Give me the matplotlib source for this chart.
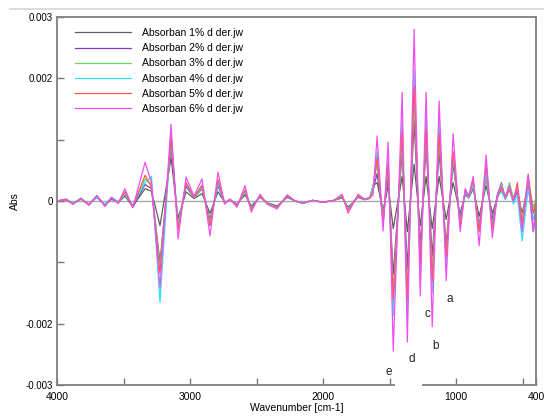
import matplotlib
matplotlib.use("Agg")
import matplotlib.pyplot as plt
from matplotlib.lines import Line2D
from matplotlib.patches import Rectangle

plt.rcParams['font.family'] = ['Liberation Sans', 'DejaVu Sans']

# === Data (extrema positions) ===
wavenumber = [4000, 3930, 3880, 3820, 3760, 3700, 3640, 3590, 3540, 3490,
              3430, 3338, 3290, 3226, 3143, 3090, 3030, 2970, 2910, 2850,
              2790, 2740, 2700, 2647, 2587, 2540, 2474, 2420, 2346, 2270,
              2210, 2150, 2080, 2000, 1920, 1857, 1812, 1737, 1690, 1650,
              1625, 1594, 1549, 1511, 1473, 1406, 1367, 1316, 1270, 1226,
              1180, 1128, 1075, 1023, 970, 932, 905, 872, 827, 775,
              728, 690, 660, 630, 600, 570, 540, 504, 459, 420, 400]

abs_1 = [0, 0.00002, -0.00004, 0.00003, -0.00005, 0.00006, -0.00006, 0.00003, -0.00002, 0.00008,
         -0.00008, 0.0002, 0.00016, -0.0004, 0.0007, -0.00028, 0.00015, 0.00004, 0.00012, -0.0002,
         0.00015, -0.00002, 0.00002, -0.00005, 0.0001, -0.00008, 0.00006, -0.00003, -0.00008, 0.00006,
         0, -0.00003, 0.00001, -0.00002, 0.00001, 0.00005, -0.0001, 0.00006, 0.00002, 0.00004,
         0.00025, 0.0003, -0.00015, 0.00025, -0.00045, 0.0004, -0.0005, 0.0006, -0.0004, 0.0004,
         -0.00045, 0.0004, -0.0003, 0.0003, -0.0002, 0.0001, 0.00005, 0.0002, -0.00025, 0.00025,
         -0.0002, 0.00005, 0.0002, 0.00008, 0.00022, 0.00002, 0.00015, -0.0002, 0.00025, -0.0002, -0.0001]

abs_2 = [0, 0.00003, -0.00005, 0.00004, -0.00006, 0.00008, -0.00007, 0.00004, -0.00003, 0.0001,
         -0.0001, 0.00027, 0.0002, -0.001, 0.0009, -0.0004, 0.00024, 0.00005, 0.0002, -0.0003,
         0.00025, -0.00003, 0.00002, -0.00007, 0.00014, -0.00012, 0.00008, -0.00004, -0.0001, 0.00008,
         0, -0.00003, 0.00001, -0.00002, 0.00001, 0.00007, -0.00012, 0.00008, 0.00003, 0.00005,
         0.00018, 0.00045, -0.0003, 0.0004, -0.0012, 0.0008, -0.0011, 0.0013, -0.00075, 0.0009,
         -0.0009, 0.0008, -0.0007, 0.0006, -0.0003, 0.00015, 0.00006, 0.00025, -0.0004, 0.0004,
         -0.0003, 0.0001, 0.0003, 0.00003, 0.00025, 0.0, 0.0002, -0.0004, 0.0003, -0.0005, -0.0001]

abs_3 = [0, 0.00002, -0.00004, 0.00003, -0.00005, 0.00007, -0.00006, 0.00005, -0.00002, 0.00011,
         -0.00008, 0.00036, 0.00028, -0.0011, 0.001, -0.0004, 0.00028, 0.00005, 0.00022, -0.00035,
         0.0003, -0.00003, 0.00002, -0.00007, 0.00015, -0.00012, 0.00008, -0.00004, -0.0001, 0.00008,
         0, -0.00003, 0.00001, -0.00002, 0.00001, 0.00007, -0.00013, 0.00008, 0.00003, 0.00005,
         0.00025, 0.0006, -0.0003, 0.00055, -0.0015, 0.001, -0.0015, 0.0017, -0.001, 0.0011,
         -0.0012, 0.001, -0.00085, 0.0007, -0.00035, 0.00015, 0.00006, 0.00025, -0.00045, 0.00045,
         -0.0004, 0.0001, 0.00028, 0.00006, 0.0003, 0.00005, 0.00022, -0.0003, 0.0003, -0.0001, 0.0]

abs_4 = [0, 0.00003, -0.00004, 0.00005, -0.00006, 0.00006, -0.00005, 0.00006, -0.00001, 0.00012,
         -0.00007, 0.0003, 0.0004, -0.00165, 0.0011, -0.00042, 0.0003, 0.00006, 0.00025, -0.0004,
         0.0003, -0.00003, 0.00003, -0.00008, 0.00016, -0.00013, 0.00009, -0.00004, -0.00011, 0.00009,
         0, -0.00004, 0.00001, -0.00002, 0.00001, 0.00008, -0.00014, 0.00009, 0.00003, 0.00005,
         0.0002, 0.0008, -0.0004, 0.0007, -0.00187, 0.0013, -0.0019, 0.00212, -0.0012, 0.0014,
         -0.0015, 0.0013, -0.001, 0.0008, -0.0004, 0.00015, 0.00005, 0.0003, -0.0005, 0.0005,
         -0.0004, 0.00008, 0.00015, 0.00002, 0.0002, -0.00005, 0.0001, -0.00065, 0.0002, -0.0003, -0.0001]

abs_5 = [0, 0.00002, -0.00005, 0.00004, -0.00006, 0.00009, -0.00008, 0.00005, -0.00003, 0.00015,
         -0.0001, 0.00042, 0.00022, -0.00118, 0.00105, -0.00046, 0.0003, 0.00006, 0.00026, -0.0004,
         0.00035, -0.00004, 0.00003, -0.00008, 0.00018, -0.00014, 0.00009, -0.00005, -0.00011, 0.00009,
         0, -0.00004, 0.00001, -0.00002, 0.00001, 0.00008, -0.00015, 0.00009, 0.00003, 0.00005,
         0.00015, 0.0007, -0.00035, 0.0006, -0.0016, 0.00115, -0.0016, 0.00187, -0.00105, 0.0012,
         -0.0013, 0.0011, -0.0009, 0.0008, -0.0004, 0.00018, 0.00007, 0.00035, -0.0005, 0.0006,
         -0.00045, 0.0001, 0.0002, 0.00005, 0.00018, 0.0, 0.0003, -0.0004, 0.00044, -0.0002, 0.0]

abs_6 = [0, 0.00003, -0.00005, 0.00004, -0.00007, 0.00009, -0.00009, 0.00006, -0.00004, 0.0002,
         -0.00011, 0.00063, 0.0003, -0.00142, 0.00125, -0.00062, 0.00039, 0.00008, 0.00036, -0.00057,
         0.00047, -0.00005, 0.00003, -0.0001, 0.00025, -0.00018, 0.00011, -0.00005, -0.00013, 0.0001,
         0, -0.00004, 0.00001, -0.00002, 0.00001, 0.00011, -0.0002, 0.00011, 0.00003, 0.00005,
         0.0001, 0.00106, -0.00049, 0.00096, -0.00245, 0.00177, -0.0023, 0.0028, -0.00155, 0.00177,
         -0.00205, 0.00163, -0.0013, 0.0011, -0.0005, 0.0002, 0.00008, 0.0004, -0.00073, 0.00075,
         -0.0006, 0.0001, 0.00025, 0.00005, 0.00025, 0.0, 0.0002, -0.0005, 0.0004, -0.0005, -0.0001]

series = [abs_1, abs_2, abs_3, abs_4, abs_5, abs_6]
names = ['Absorban 1% d der.jw', 'Absorban 2% d der.jw', 'Absorban 3% d der.jw',
         'Absorban 4% d der.jw', 'Absorban 5% d der.jw', 'Absorban 6% d der.jw']
colors = ['#5e5e5e', '#7b3fc4', '#66d966', '#30e0f0', '#ff5a4c', '#f04ef0']

# peak labels
peak_tags = ['a', 'b', 'c', 'd', 'e']
peak_x = [1045, 1158, 1218, 1331, 1504]
peak_y = [-0.00159, -0.00237, -0.00184, -0.00257, -0.00278]

# === Plot ===
fig = plt.figure(figsize=(5.44, 4.16), dpi=100)
ax = fig.add_axes([57/544, 31/416, 479/544, 368/416])

ax.axhline(0, color='#a8a8a8', lw=1.0, zorder=1)
for vals, name, col in zip(series, names, colors):
    ax.plot(wavenumber, vals, color=col, lw=0.9, label=name, zorder=2)

for t, x, y in zip(peak_tags, peak_x, peak_y):
    ax.text(x, y, t, fontsize=8.5, color='#222222', ha='center', va='center')

ax.set_xlim(4000, 400)
ax.set_ylim(-0.003, 0.003)

ax.set_xticks([4000, 3000, 2000, 1000, 400])
ax.set_xticklabels(['4000', '3000', '2000', '1000', '400'])
ax.set_xticks([3500, 2500, 1500, 500], minor=True)
ax.set_yticks([-0.003, -0.002, -0.001, 0, 0.001, 0.002, 0.003])
ax.set_yticklabels(['-0.003', '-0.002', '', '0', '', '0.002', '0.003'])

ax.tick_params(axis='x', which='both', direction='in', length=5, width=1,
               color='#777777', labelsize=7.5, pad=5)
ax.tick_params(axis='y', direction='in', length=5, width=1,
               color='#777777', labelsize=7, pad=3)

for sp in ax.spines.values():
    sp.set_color('#808080')
    sp.set_linewidth(1.3)

ax.set_xlabel('Wavenumber [cm-1]', fontsize=7.5, labelpad=1)
ax.set_ylabel('Abs', fontsize=7.5)
ax.yaxis.set_label_coords(-0.077, 0.5)

ax.legend(loc='upper left', bbox_to_anchor=(75/544, 1 - 28/416),
          bbox_transform=fig.transFigure, frameon=False, fontsize=7.5,
          handlelength=5.4, handletextpad=1.0, labelspacing=0.5,
          borderpad=0, borderaxespad=0)

# gap in bottom axis line as in the screenshot
fig.add_artist(Rectangle((395/544, 28/416), 27/544, 6/416, transform=fig.transFigure,
                         facecolor='white', edgecolor='none', zorder=10))
# screenshot top border line
fig.add_artist(Line2D([10/544, 1], [1 - 9/416, 1 - 9/416], color='#d4d4d4', lw=1.2))

fig.savefig('out.png', dpi=100)
